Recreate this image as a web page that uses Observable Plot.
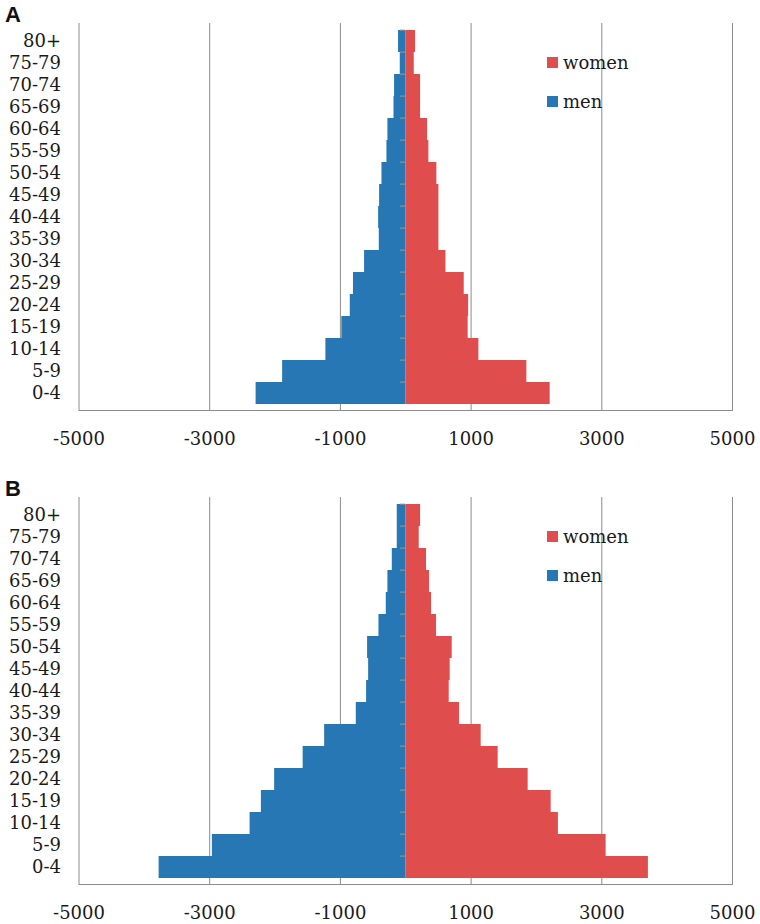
<!DOCTYPE html>
<html>
<head>
<meta charset="utf-8">
<script src="https://cdn.jsdelivr.net/npm/d3@7"></script>
<script src="https://cdn.jsdelivr.net/npm/@observablehq/plot@0.6"></script>
<style>
  html, body { margin: 0; padding: 0; background: #ffffff; }
  #fig { position: relative; width: 760px; height: 924px; font-family: "DejaVu Serif", serif; color: #1a1a1a; }
  .panel { position: absolute; left: 0; width: 760px; }
  .plabel { position: absolute; left: 5px; font-family: "Liberation Sans", Arial, sans-serif; font-weight: bold; font-size: 22px; line-height: 22px; color: #111; }
  .sw { position: absolute; width: 11px; height: 11px; }
  .lt { position: absolute; font-family: "DejaVu Serif", serif; font-size: 18px; line-height: 18px; color: #1a1a1a; white-space: nowrap; }
</style>
</head>
<body>
<div id="fig"></div>
<script>
// Age groups, bottom to top
const ages = ["0-4","5-9","10-14","15-19","20-24","25-29","30-34","35-39","40-44","45-49","50-54","55-59","60-64","65-69","70-74","75-79","80+"];

// Panel A
const menA   = [2290, 1884, 1222, 978, 849, 800, 630, 405, 415, 400, 364, 288, 273, 180, 171, 84, 110];
const womenA = [2210, 1853, 1119, 955, 962, 895, 615, 507, 507, 507, 476, 354, 334, 227, 227, 130, 150];

// Panel B
const menB   = [3774, 2959, 2382, 2209, 2006, 1570, 1241, 757, 599, 568, 584, 410, 298, 273, 206, 130, 130];
const womenB = [3713, 3066, 2336, 2225, 1873, 1414, 1154, 823, 665, 680, 711, 471, 395, 364, 318, 206, 227];

const xTicks = [-5000, -3000, -1000, 1000, 3000, 5000];
const seriesNames = ["women", "men"];
const colors = {women: "#e04d4d", men: "#2677b3"};

const W = 760, H = 450, MT = 23, MB = 40, ML = 78.5, MR = 28;
const bw = (H - MT - MB) / ages.length;

function panel(men, women) {
  const rows = [];
  ages.forEach((a, i) => {
    rows.push({age: a, sex: "men", v: -men[i]});
    rows.push({age: a, sex: "women", v: women[i]});
  });
  return Plot.plot({
    width: W, height: H,
    marginTop: MT, marginBottom: MB, marginLeft: ML, marginRight: MR,
    style: {fontFamily: "DejaVu Serif, serif", fontSize: "18px", color: "#1a1a1a", background: "transparent"},
    x: {domain: [-5000, 5000], ticks: xTicks},
    y: {domain: ages.slice().reverse(), padding: 0},
    color: {domain: seriesNames, range: seriesNames.map(s => colors[s])},
    marks: [
      Plot.ruleX(xTicks, {stroke: "#8c8c8c", strokeWidth: 1}),
      Plot.barX(rows, {y: "age", x1: 0, x2: "v", fill: "sex", inset: 0}),
      Plot.ruleY(ages, {y: d => d, x1: -80, x2: 0, dy: -bw / 2, stroke: "#9a9a9a", strokeWidth: 1}),
      Plot.frame({anchor: "bottom", stroke: "#8c8c8c", strokeWidth: 1}),
      Plot.axisX({ticks: xTicks, tickSize: 0, tickPadding: 22, tickFormat: d => String(d), label: null, fontSize: 18, fill: "#1a1a1a"}),
      Plot.axisY({tickSize: 0, tickPadding: 18, label: null, fontSize: 18, fill: "#1a1a1a"})
    ]
  });
}

const fig = document.getElementById("fig");
const panels = [
  {label: "A", men: menA, women: womenA, top: 0},
  {label: "B", men: menB, women: womenB, top: 474}
];
for (const p of panels) {
  const d = document.createElement("div");
  d.className = "panel";
  d.style.top = p.top + "px";
  d.appendChild(panel(p.men, p.women));
  fig.appendChild(d);

  const lab = document.createElement("div");
  lab.className = "plabel";
  lab.textContent = p.label;
  lab.style.top = (p.top + 4) + "px";
  fig.appendChild(lab);

  seriesNames.forEach((s, i) => {
    const sq = document.createElement("div");
    sq.className = "sw";
    sq.style.background = colors[s];
    sq.style.left = "547px";
    sq.style.top = (p.top + 57 + i * 38.5) + "px";
    fig.appendChild(sq);
    const t = document.createElement("div");
    t.className = "lt";
    t.textContent = s;
    t.style.left = "563px";
    t.style.top = (p.top + 54 + i * 38.5) + "px";
    fig.appendChild(t);
  });
}
</script>
</body>
</html>
